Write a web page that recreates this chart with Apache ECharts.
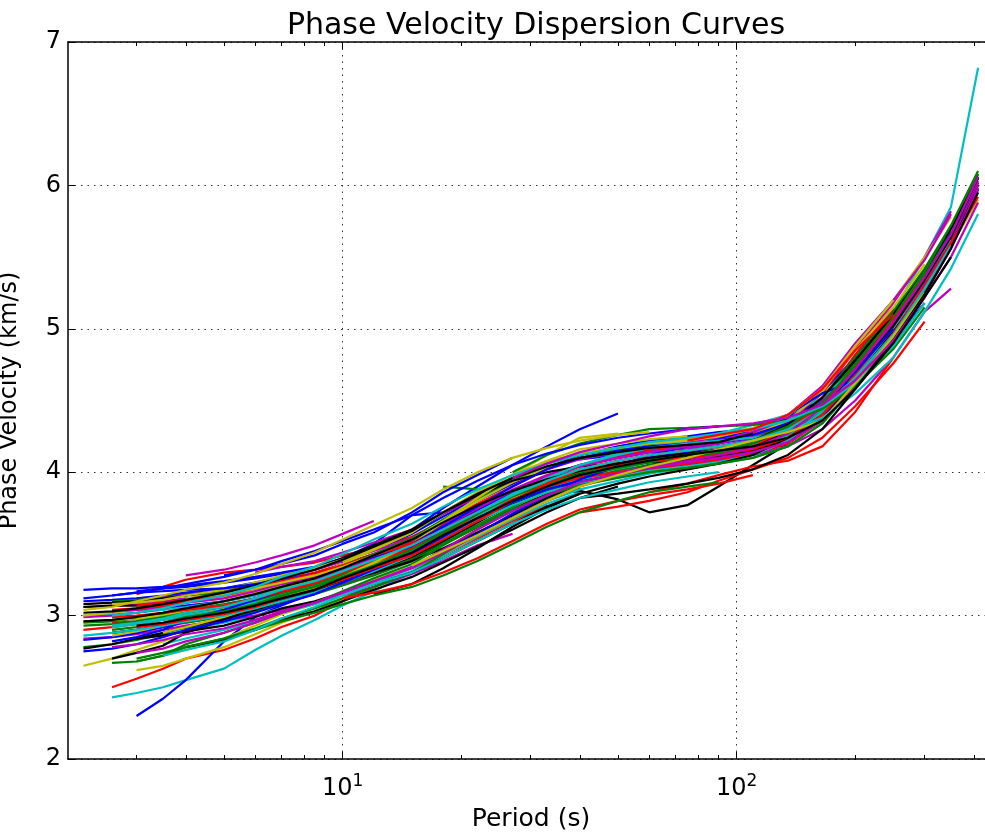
<!DOCTYPE html>
<html>
<head>
<meta charset="utf-8">
<script src="https://cdn.jsdelivr.net/npm/echarts@6/dist/echarts.min.js"></script>
<style>
html,body{margin:0;padding:0;background:#fff;}
#chart{width:985px;height:838px;}
</style>
</head>
<body>
<div id="chart"></div>
<script>
// Period grid (s) shared by all curves
const periods = [2.2, 2.6, 3, 3.5, 4, 5, 6, 7, 8.5, 10, 12, 15, 18, 22, 27, 33, 40, 50, 60, 75, 90, 110, 135, 165, 200, 250, 300, 350, 410];
// index into periods where each curve starts
const curveStart = [2,0,1,1,0,0,14,2,0,2,3,1,2,0,0,12,0,2,0,3,1,0,1,2,16,17,0,2,1,4,18,0,2,1,4,0,5,1,3,0,2,0,9,0,2,1,6,0,1,1,1,1,10,1,3,0,12,1,16,0,8,1,10,1,2,1,13,2,4,0,0,15,2,1,1,9,0,
  5,14,9,1,4,11,16,0,2,19,3,14,0,2];
// phase velocity (km/s) of each curve
const curveVelocity = [
[3.17,3.19,3.2,3.23,3.26,3.29,3.33,3.4,3.48,3.6,3.75,3.9,4.05,4.18,4.3,4.41],
[2.95,2.96,2.98,3.01,3.04,3.08,3.12,3.16,3.21,3.28,3.36,3.47,3.59,3.72,3.83,3.92,3.98,4.03,4.07,4.1,4.13,4.18,4.27,4.43,4.68,5.02,5.33,5.63,6.05],
[2.5,2.56,2.63,2.7,2.76,2.84,2.92,3.0,3.1,3.2,3.3,3.42,3.54,3.66,3.77],
[2.43,2.46,2.5,2.55,2.63,2.76,2.86,2.97,3.07,3.17,3.3,3.42,3.55,3.67,3.78,3.86],
[3.06,3.07,3.08,3.1,3.12,3.15,3.19,3.23,3.28,3.35,3.43,3.54,3.65,3.77,3.87,3.95,4.01,4.06,4.1,4.13],
[2.65,2.7,2.76,2.82,2.88,2.96,3.03,3.09,3.16,3.24,3.32,3.43,3.55,3.67,3.78,3.87,3.93,3.98,4.02,4.06,4.09,4.14,4.24,4.4,4.66,4.98,5.3,5.58,5.9],
[3.78,3.84,3.87,3.81,3.72,3.77,3.9,4.05,4.2,4.38,4.62,4.95,5.27,5.58,6.02],
[2.3,2.42,2.55,2.82,2.99,3.07,3.16,3.24,3.32,3.42,3.52,3.63,3.74,3.84],
[2.78,2.8,2.83,2.87,2.91,2.97,3.03,3.09,3.15,3.22,3.3,3.4,3.5,3.62,3.73,3.82],
[3.15,3.2,3.25,3.3,3.32,3.34,3.37,3.42,3.47,3.55,3.66,3.78,3.9,4.02],
[2.88,2.9,2.95,3.0,3.05,3.09,3.15,3.22,3.31,3.44,3.57,3.71,3.83,3.93,4.0,4.05,4.09,4.12],
[2.88,2.9,2.92,2.95,3.0,3.05,3.1,3.16,3.22,3.29,3.39,3.5,3.62,3.74,3.84,3.91],
[2.62,2.65,2.7,2.78,2.87,2.95,3.03,3.12,3.2,3.3,3.43,3.56,3.69,3.81,3.9,3.97,4.02,4.07],
[3.06,3.07,3.07,3.08,3.1,3.13,3.17,3.22,3.27,3.33,3.41,3.52,3.63,3.75,3.85,3.93,3.99,4.04,4.08,4.11,4.14,4.2,4.3,4.46,4.72,5.05,5.37,5.65,6.06],
[3.18,3.19,3.19,3.2,3.21,3.24,3.27,3.3,3.34,3.4,3.47,3.58,3.71,3.84,3.96,4.04,4.09,4.12,4.15,4.17,4.2,4.26,4.38,4.56,4.8,5.1],
[3.9,3.88,3.96,4.06,4.12,4.16,4.19,4.22,4.24],
[2.9,2.92,2.94,2.97,3.0,3.04,3.09,3.14,3.2,3.27,3.35,3.46,3.57,3.69,3.79,3.87,3.93,3.98,4.02,4.05,4.08,4.12,4.2,4.36,4.6,4.92,5.22],
[2.97,2.99,3.01,3.05,3.09,3.13,3.18,3.24,3.31,3.4,3.51,3.63,3.75,3.86,3.95,4.02,4.07],
[2.84,2.85,2.87,2.9,2.93,2.97,3.0,3.04,3.09,3.14,3.2,3.29,3.38,3.49,3.57],
[2.72,2.76,2.84,2.93,3.01,3.08,3.16,3.25,3.34,3.46,3.6,3.74,3.86,3.96,4.03,4.08],
[2.88,2.9,2.93,2.98,3.02,3.08,3.14,3.2,3.26,3.32,3.4,3.5,3.62,3.74,3.85,3.94,4.0,4.05,4.09],
[2.83,2.85,2.88,2.92,2.96,3.01,3.06,3.11,3.17,3.24,3.32,3.43,3.55,3.67,3.78,3.87,3.94,3.99,4.03,4.06,4.09,4.13,4.22,4.38,4.62,4.96,5.28,5.58,5.97],
[2.67,2.68,2.72,2.78,2.84,2.91,2.98,3.05,3.12,3.2,3.3,3.43,3.57,3.7,3.81,3.89],
[2.99,3.02,3.05,3.1,3.15,3.2,3.26,3.32,3.38,3.47,3.58,3.71,3.84,3.95,4.04,4.1,4.14,4.18,4.21,4.25,4.34,4.5,4.76,5.1],
[3.98,4.05,4.1,4.15,4.2,4.26,4.33,4.47,4.72,5.12,5.5,5.85,6.82],
[4.0,4.03,4.06,4.08,4.12,4.18,4.3,4.5,4.8,5.12,5.28],
[2.96,2.97,2.98,3.0,3.03,3.07,3.11,3.15,3.2,3.26,3.33,3.43,3.54,3.66,3.77,3.86,3.93,3.98],
[2.84,2.86,2.89,2.93,2.99,3.05,3.1,3.16,3.22,3.3,3.4,3.52,3.64,3.76,3.85],
[3.03,3.04,3.05,3.07,3.1,3.14,3.18,3.22,3.28,3.35,3.44,3.56,3.69,3.82,3.93,4.01,4.06,4.1,4.14,4.18,4.22,4.32,4.5,4.76,5.08,5.4,5.68],
[2.95,2.99,3.04,3.09,3.15,3.21,3.28,3.38,3.5,3.63,3.76,3.87,3.95,4.01,4.05,4.08,4.11],
[3.86,3.92,3.98,4.04,4.08,4.18,4.42,4.8],
[3.0,3.01,3.02,3.04,3.06,3.1,3.14,3.19,3.25,3.32,3.4,3.51,3.62,3.74,3.84,3.92,3.98,4.03,4.07,4.1,4.13,4.18,4.28,4.44,4.68,5.0,5.32,5.6,5.96],
[3.12,3.13,3.15,3.17,3.2,3.24,3.28,3.33,3.4,3.48,3.6,3.72,3.85,3.96,4.05,4.11,4.16,4.19,4.22,4.26,4.33,4.48,4.72,5.04,5.36,5.64,6.02],
[2.86,2.89,2.93,2.99,3.05,3.12,3.18,3.24,3.3,3.37,3.46,3.57,3.68,3.8,3.9,3.98,4.04,4.08],
[2.78,2.83,2.9,2.97,3.03,3.1,3.18,3.27,3.37,3.48,3.6,3.72,3.82,3.9],
[3.1,3.11,3.12,3.14,3.16,3.19,3.23,3.27,3.32,3.38,3.46,3.57,3.69,3.82,3.93],
[3.0,3.05,3.11,3.16,3.23,3.3,3.4,3.52,3.65,3.78,3.89,3.97,4.03,4.07,4.1,4.13,4.17,4.26,4.42,4.68,5.02,5.34,5.66,6.08],
[2.95,2.96,2.98,3.02,3.06,3.11,3.16,3.22,3.28,3.36,3.46,3.58,3.7,3.82,3.9,3.96,4.0,4.04,4.08,4.12,4.18,4.3,4.5,4.82,5.14],
[2.8,2.84,2.9,2.96,3.02,3.08,3.15,3.23,3.33,3.45,3.58,3.7,3.8,3.88,3.94,3.99,4.03,4.06,4.1,4.18,4.34,4.6,4.94,5.26,5.6],
[2.99,3.0,3.02,3.05,3.09,3.14,3.2,3.26,3.32,3.38,3.45,3.54,3.64,3.75,3.86,3.95,4.02,4.08,4.12,4.15,4.18,4.23,4.33,4.5,4.75,5.06,5.36,5.64,6.03],
[3.05,3.07,3.09,3.12,3.16,3.2,3.25,3.3,3.36,3.44,3.55,3.68,3.82,3.93,4.01,4.07],
[2.77,2.8,2.84,2.88,2.92,2.98,3.04,3.1,3.16,3.23,3.31,3.41,3.52,3.65,3.78,3.88,3.95,4.0,4.04,4.07,4.1,4.15,4.24,4.4,4.64,4.98,5.3,5.6,6.0],
[3.4,3.5,3.7,3.72,3.8,3.92,4.03,4.12,4.18,4.22,4.25,4.28,4.3,4.37,4.52,4.76,5.06],
[2.93,2.94,2.96,2.99,3.02,3.06,3.1,3.15,3.21,3.29,3.38,3.5,3.62,3.74,3.85,3.94,4.0,4.05,4.09,4.12,4.15,4.21,4.32,4.5,4.76,5.08,5.38],
[3.07,3.09,3.11,3.15,3.2,3.25,3.3,3.36,3.43,3.51,3.62,3.74,3.86,3.97,4.05,4.11,4.15,4.19,4.22,4.27,4.36,4.55,4.85,5.15],
[2.92,2.94,2.97,3.0,3.04,3.09,3.14,3.2,3.27,3.35,3.45,3.56,3.68,3.79,3.88,3.95,4.0,4.04,4.07,4.11,4.16,4.25,4.42,4.68,5.0,5.32,5.62],
[3.3,3.34,3.38,3.44,3.51,3.6,3.71,3.83,3.93,4.02,4.09,4.14,4.18,4.21,4.24,4.28,4.36,4.5,4.72,5.02,5.32,5.6,6.0],
[3.0,3.02,3.04,3.06,3.09,3.13,3.17,3.22,3.28,3.36,3.46,3.58,3.72,3.86,3.98,4.08,4.16,4.2,4.23,4.25],
[2.7,2.74,2.79,2.88,2.97,3.05,3.12,3.18,3.24,3.3,3.38,3.47,3.58,3.7,3.82,3.92,3.99,4.04,4.08,4.11,4.15,4.24,4.4,4.65,4.98,5.28,5.58,5.98],
[2.82,2.85,2.9,2.97,3.04,3.11,3.17,3.24,3.31,3.39,3.48,3.6,3.73,3.86,3.97,4.05,4.1,4.14,4.17,4.2,4.24,4.33,4.52,4.8,5.12],
[3.1,3.11,3.12,3.14,3.16,3.2,3.24,3.29,3.35,3.43,3.54,3.67,3.81,3.94,4.04,4.1,4.14,4.17,4.19,4.21,4.25,4.33,4.48,4.74,5.06,5.38,5.7,6.08],
[2.99,3.0,3.02,3.04,3.07,3.12,3.17,3.23,3.3,3.38,3.47,3.58,3.7,3.81,3.9,3.96,4.0,4.03,4.06,4.09,4.13,4.22,4.4,4.68,5.02],
[3.32,3.42,3.55,3.69,3.83,3.95,4.05,4.13,4.18,4.22,4.27,4.33,4.4,4.52,4.72,5.0],
[3.03,3.04,3.06,3.09,3.12,3.17,3.22,3.27,3.33,3.4,3.5,3.62,3.75,3.88,3.98,4.05,4.1,4.14,4.17,4.2,4.25,4.35,4.56,4.86,5.18,5.5,5.82],
[2.88,2.92,2.99,3.06,3.12,3.19,3.27,3.37,3.5,3.65,3.8,3.93,4.03,4.1,4.15,4.18,4.2,4.22,4.26,4.36,4.56,4.88,5.2,5.5,5.78],
[3.08,3.09,3.1,3.12,3.14,3.18,3.22,3.27,3.33,3.4,3.49,3.6,3.72,3.84,3.94,4.0,4.04,4.06,4.07,4.08,4.11,4.17,4.28,4.45,4.7,5.02,5.34,5.64,6.06],
[3.45,3.57,3.71,3.84,3.95,4.04,4.12,4.18,4.23,4.3,4.4,4.55,4.64,4.92,5.18],
[2.9,2.92,2.95,2.99,3.03,3.08,3.14,3.2,3.27,3.35,3.46,3.58,3.71,3.83,3.92,3.98,4.03,4.07,4.1,4.14,4.2,4.32,4.52,4.8,5.12,5.42,5.72],
[3.72,3.76,3.8,3.86,3.94,4.02,4.1,4.24,4.46,4.76,5.05],
[2.86,2.88,2.9,2.93,2.96,3.0,3.05,3.1,3.16,3.23,3.31,3.42,3.54,3.66,3.77,3.86,3.92,3.97,4.01,4.04,4.07,4.12,4.22,4.4,4.66],
[3.25,3.32,3.4,3.5,3.62,3.75,3.87,3.97,4.04,4.1,4.14,4.18,4.22,4.28,4.4,4.6,4.9,5.2,5.48,5.8],
[3.08,3.09,3.11,3.14,3.18,3.23,3.28,3.33,3.39,3.47,3.58,3.72,3.86,3.98,4.07,4.13,4.17,4.2,4.23,4.26,4.31,4.4,4.58,4.85,5.15,5.45],
[3.15,3.22,3.33,3.47,3.62,3.75,3.85,3.92,3.97,4.02,4.06,4.12,4.24],
[3.14,3.16,3.17,3.18,3.19,3.22,3.25,3.29,3.34,3.41,3.5,3.62,3.76,3.9,4.02,4.1,4.15,4.18,4.2,4.22,4.26,4.34,4.48,4.7,5.0],
[2.68,2.72,2.8,2.88,2.95,3.02,3.09,3.17,3.26,3.36,3.49,3.62,3.74,3.84,3.91,3.96,4.0,4.03,4.06,4.1,4.18,4.34,4.6,4.94,5.26,5.56],
[3.04,3.05,3.07,3.1,3.14,3.19,3.24,3.29,3.35,3.42,3.5,3.6,3.72,3.84,3.94,4.01,4.05,4.08,4.1,4.12,4.16,4.24,4.4,4.65,4.97,5.3,5.6,5.92],
[3.72,3.85,3.96,4.05,4.12,4.17,4.2,4.22,4.24,4.29,4.38,4.55,4.8,5.12,5.42,5.8],
[2.74,2.77,2.82,2.88,2.95,3.02,3.09,3.16,3.24,3.33,3.44,3.56,3.68,3.8,3.9,3.98,4.03,4.07,4.1,4.14,4.21,4.36,4.6,4.92,5.24,5.56,5.98],
[3.12,3.15,3.19,3.23,3.28,3.34,3.42,3.53,3.66,3.82,3.98,4.12,4.24,4.27],
[2.96,2.97,2.99,3.02,3.05,3.1,3.15,3.2,3.26,3.33,3.42,3.53,3.65,3.77,3.87,3.95,4.01,4.06,4.1,4.13,4.16,4.22,4.33,4.52,4.78,5.1,5.4,5.7,6.05],
[2.75,2.77,2.8,2.85,2.9,2.96,3.02,3.08,3.15,3.23,3.32,3.43,3.55,3.68,3.79,3.88,3.94],
[3.92,3.98,4.04,4.08,4.12,4.16,4.22,4.32,4.48,4.74,5.08,5.4,5.72,6.1],
[2.92,2.94,2.97,3.01,3.06,3.12,3.18,3.25,3.33,3.42,3.53,3.66,3.8,3.92,4.02,4.08,4.12,4.15,4.18,4.22,4.3,4.46,4.72,5.06,5.36],
[2.93,2.95,2.98,3.02,3.06,3.12,3.18,3.24,3.31,3.39,3.49,3.6,3.72,3.84,3.94,4.02,4.08,4.12,4.15,4.18,4.22,4.3,4.44,4.66,4.96,5.28,5.58],
[2.78,2.8,2.83,2.87,2.91,2.97,3.03,3.09,3.16,3.24,3.34,3.46,3.6,3.73,3.84,3.93,3.99,4.04,4.08,4.12,4.17,4.27,4.45,4.72,5.05,5.36,5.66,6.06],
[3.38,3.46,3.58,3.72,3.86,3.98,4.07,4.13,4.17,4.2,4.22,4.25,4.3,4.4,4.58,4.88,5.2],
[3.02,3.03,3.05,3.08,3.11,3.16,3.21,3.26,3.32,3.39,3.48,3.59,3.72,3.85,3.96,4.04,4.1,4.14,4.17,4.19,4.21,4.27],
[3.28,3.32,3.36,3.42,3.5,3.58,3.72,3.86,3.98,4.1],
[4.0,4.12,4.2,4.26,4.3,4.31,4.32,4.33,4.36,4.44,4.6,4.86,5.15],
[3.12,3.16,3.22,3.3,3.4,3.52,3.64,3.74,3.8,3.84,3.88,3.92,3.98],
[3.0,3.02,3.05,3.09,3.14,3.2,3.27,3.34,3.43,3.53,3.64,3.76,3.88,3.98,4.06,4.12,4.17,4.21,4.24,4.27,4.3,4.36,4.46,4.62,4.88,5.18],
[3.28,3.32,3.37,3.42,3.49,3.57,3.66],
[3.35,3.45,3.56,3.68,3.8,3.9,3.98,4.04,4.1,4.16,4.22,4.28,4.36,4.62,4.95,5.25],
[3.82,3.85,3.88,3.92,3.96,4.02,4.12,4.3,4.58,4.92,5.24,5.56,5.95],
[3.12,3.14,3.16,3.19,3.22,3.27,3.32,3.38,3.45,3.52,3.6,3.7,3.82,3.94,4.05,4.13,4.19,4.24,4.27,4.3,4.32],
[2.7,2.74,2.78,2.84,2.9,2.96,3.02,3.08,3.14,3.2,3.28,3.38,3.5,3.62,3.72,3.8,3.86,3.9,3.93],
[4.22,4.26,4.3,4.4,4.58,4.85,5.1],
[2.72,2.76,2.82,2.9,2.98,3.06,3.14,3.22,3.3,3.4,3.52,3.64,3.74,3.82,3.88,3.93,3.97,4.0],
[3.96,4.06,4.14,4.2,4.25,4.3,4.32,4.34,4.38,4.47,4.64,4.92,5.22,5.5,5.88],
[3.04,3.06,3.1,3.14,3.18,3.23,3.29,3.36,3.44,3.53,3.63,3.75,3.88,4.0,4.1,4.17,4.22,4.26,4.28],
[2.93,2.95,2.98,3.02,3.07,3.12,3.18,3.26,3.34,3.44,3.56,3.68,3.8,3.9,3.98,4.04,4.08,4.12,4.15,4.18,4.24,4.36,4.58,4.9,5.22,5.5]
];
const xMajorTicks = [10, 100];
const xMajorExponents = ['1', '2'];
const xMinorTicks = [3, 4, 5, 6, 7, 8, 9, 20, 30, 40, 50, 60, 70, 80, 90, 200, 300, 400];
const yTicks = [2, 3, 4, 5, 6, 7];

const palette = ['#0000ff', '#008000', '#ff0000', '#00bfbf', '#bf00bf', '#bfbf00', '#000000'];
const FONT = 'DejaVu Sans';
const X_MIN = 2.01, X_MAX = 450;

const chart = echarts.init(document.getElementById('chart'), null, {renderer: 'canvas'});

function xAx(pos, major, withLabel, withLine, withSplit) {
  return {
    type: 'log', logBase: 10, position: pos, min: X_MIN, max: X_MAX,
    gridIndex: 0,
    axisLine: {show: withLine, onZero: false, lineStyle: {color: '#000', width: 1.5}},
    axisTick: {show: true, inside: true, length: major ? 7 : 4, customValues: major ? xMajorTicks : xMinorTicks,
               lineStyle: {color: '#000', width: 1}},
    axisLabel: withLabel ? {
      show: true, customValues: xMajorTicks, margin: 14, color: '#000', fontFamily: FONT, fontSize: 24,
      formatter: function (v) { const i = xMajorTicks.indexOf(v); return '{base|10}{sup|' + xMajorExponents[i] + '}'; },
      rich: {base: {fontFamily: FONT, fontSize: 24, color: '#000'},
             sup: {fontFamily: FONT, fontSize: 17, color: '#000', padding: [0, 0, 14, 0]}}
    } : {show: false},
    splitLine: withSplit ? {show: true, lineStyle: {color: '#333', width: 1, type: [1.5, 5]}} : {show: false},
    minorTick: {show: false},
    name: withLabel ? 'Period (s)' : '',
    nameLocation: 'middle', nameGap: 48,
    nameTextStyle: {fontFamily: FONT, fontSize: 25, color: '#000'}
  };
}

const series = curveVelocity.map(function (vals, i) {
  const data = [];
  for (let j = 0; j < vals.length; j++) {
    const k = curveStart[i] + j;
    if (k < periods.length) data.push([periods[k], vals[j]]);
  }
  return {
    type: 'line', data: data, xAxisIndex: 0, yAxisIndex: 0,
    showSymbol: false, symbol: 'none', silent: true, animation: false,
    lineStyle: {color: palette[i % palette.length], width: 2.2},
    itemStyle: {color: palette[i % palette.length]},
    z: 2
  };
});

chart.setOption({
  backgroundColor: '#ffffff',
  animation: false,
  title: {
    text: 'Phase Velocity Dispersion Curves',
    left: 531, top: 6, textAlign: 'center',
    textStyle: {fontFamily: FONT, fontSize: 30, fontWeight: 'normal', color: '#000'}
  },
  grid: {left: 68, top: 42, width: 926, height: 717, containLabel: false, outerBoundsMode: 'none'},
  xAxis: [
    xAx('bottom', true, true, true, true),
    xAx('bottom', false, false, false, false),
    xAx('top', true, false, true, false),
    xAx('top', false, false, false, false)
  ],
  yAxis: [{
    type: 'value', min: 2, max: 7, interval: 1, position: 'left',
    axisLine: {show: true, onZero: false, lineStyle: {color: '#000', width: 1.5}},
    axisTick: {show: true, inside: true, length: 7, lineStyle: {color: '#000'}},
    axisLabel: {show: true, margin: 7, color: '#000', fontFamily: FONT, fontSize: 24,
                customValues: yTicks},
    splitLine: {show: true, lineStyle: {color: '#333', width: 1, type: [1.5, 5]}},
    name: 'Phase Velocity (km/s)', nameLocation: 'middle', nameGap: 46, nameRotate: 90,
    nameTextStyle: {fontFamily: FONT, fontSize: 24, color: '#000'}
  }],
  series: series
});
</script>
</body>
</html>
